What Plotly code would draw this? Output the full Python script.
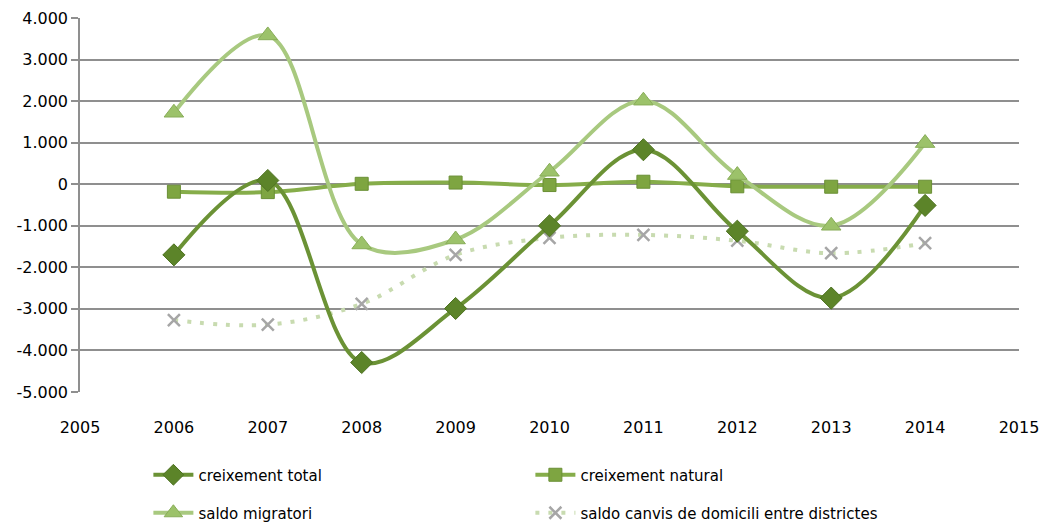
import plotly.graph_objects as go

years = [2006, 2007, 2008, 2009, 2010, 2011, 2012, 2013, 2014]
creixement_total = [-1700, 90, -4290, -2990, -1000, 830, -1130, -2740, -510]
creixement_natural = [-180, -190, 10, 40, -20, 60, -50, -60, -60]
saldo_migratori = [1720, 3580, -1450, -1330, 300, 2010, 220, -1000, 990]
saldo_canvis = [-3270, -3380, -2880, -1700, -1290, -1220, -1360, -1660, -1420]

y_ticks = [4000, 3000, 2000, 1000, 0, -1000, -2000, -3000, -4000, -5000]
x_ticks = list(range(2005, 2016))

FONT = "'DejaVu Sans', sans-serif"
GRID = "#8f8f8f"

fig = go.Figure()

fig.add_trace(go.Scatter(
    x=years, y=saldo_canvis, name="saldo canvis de domicili entre districtes",
    mode="lines+markers", line=dict(shape="spline", smoothing=1.0, color="#c8dbb0", width=4, dash="4px,9px"),
    marker=dict(symbol="x-thin", size=12, line=dict(width=2.5, color="#a6a6a6"), color="#a6a6a6"),
    legend="legend2",
))
fig.add_trace(go.Scatter(
    x=years, y=creixement_natural, name="creixement natural",
    mode="lines+markers", line=dict(shape="spline", smoothing=1.0, color="#86ad4a", width=4),
    marker=dict(symbol="square", size=13, color="#7ea541", line=dict(width=1, color="#6a8f35")),
    legend="legend",
))
fig.add_trace(go.Scatter(
    x=years, y=saldo_migratori, name="saldo migratori",
    mode="lines+markers", line=dict(shape="spline", smoothing=1.0, color="#a8c97f", width=4),
    marker=dict(symbol="triangle-up", size=17, color="#9cc26a", line=dict(width=1, color="#88ad58")),
    legend="legend2",
))
fig.add_trace(go.Scatter(
    x=years, y=creixement_total, name="creixement total",
    mode="lines+markers", line=dict(shape="spline", smoothing=1.0, color="#6b9235", width=4),
    marker=dict(symbol="diamond", size=17, color="#5c8429", line=dict(width=1, color="#4e7222")),
    legend="legend",
))

legend_common = dict(
    orientation="h", xanchor="left", yanchor="middle",
    xref="container", yref="container",
    font=dict(family=FONT, size=15, color="#000000"),
    entrywidth=327, entrywidthmode="pixels", traceorder="reversed",
    bgcolor="rgba(0,0,0,0)", itemwidth=40,
)

fig.update_layout(
    width=1045, height=523,
    margin=dict(l=80, r=26, t=18, b=131, autoexpand=False),
    paper_bgcolor="white", plot_bgcolor="white",
    font=dict(family=FONT, size=16, color="#000000"),
    showlegend=True,
    legend=dict(x=0.142, y=1 - 475 / 523, **legend_common),
    legend2=dict(x=0.142, y=1 - 513 / 523, **legend_common),
    xaxis=dict(
        range=[2005, 2015], tickvals=x_ticks, ticktext=[str(v) for v in x_ticks],
        showgrid=False, zeroline=False, showline=False, ticks="",
        ticklabelstandoff=24, tickfont=dict(family=FONT, size=16),
    ),
    yaxis=dict(
        range=[-5000, 4000], tickvals=y_ticks,
        ticktext=[f"{v:,}".replace(",", ".") for v in y_ticks],
        showgrid=True, gridcolor=GRID, gridwidth=1.5, zeroline=False,
        showline=True, linecolor=GRID, linewidth=1.5,
        ticks="outside", ticklen=7, tickcolor=GRID, tickwidth=1.5,
        tickfont=dict(family=FONT, size=16),
    ),
)

fig.write_html("out.html")
